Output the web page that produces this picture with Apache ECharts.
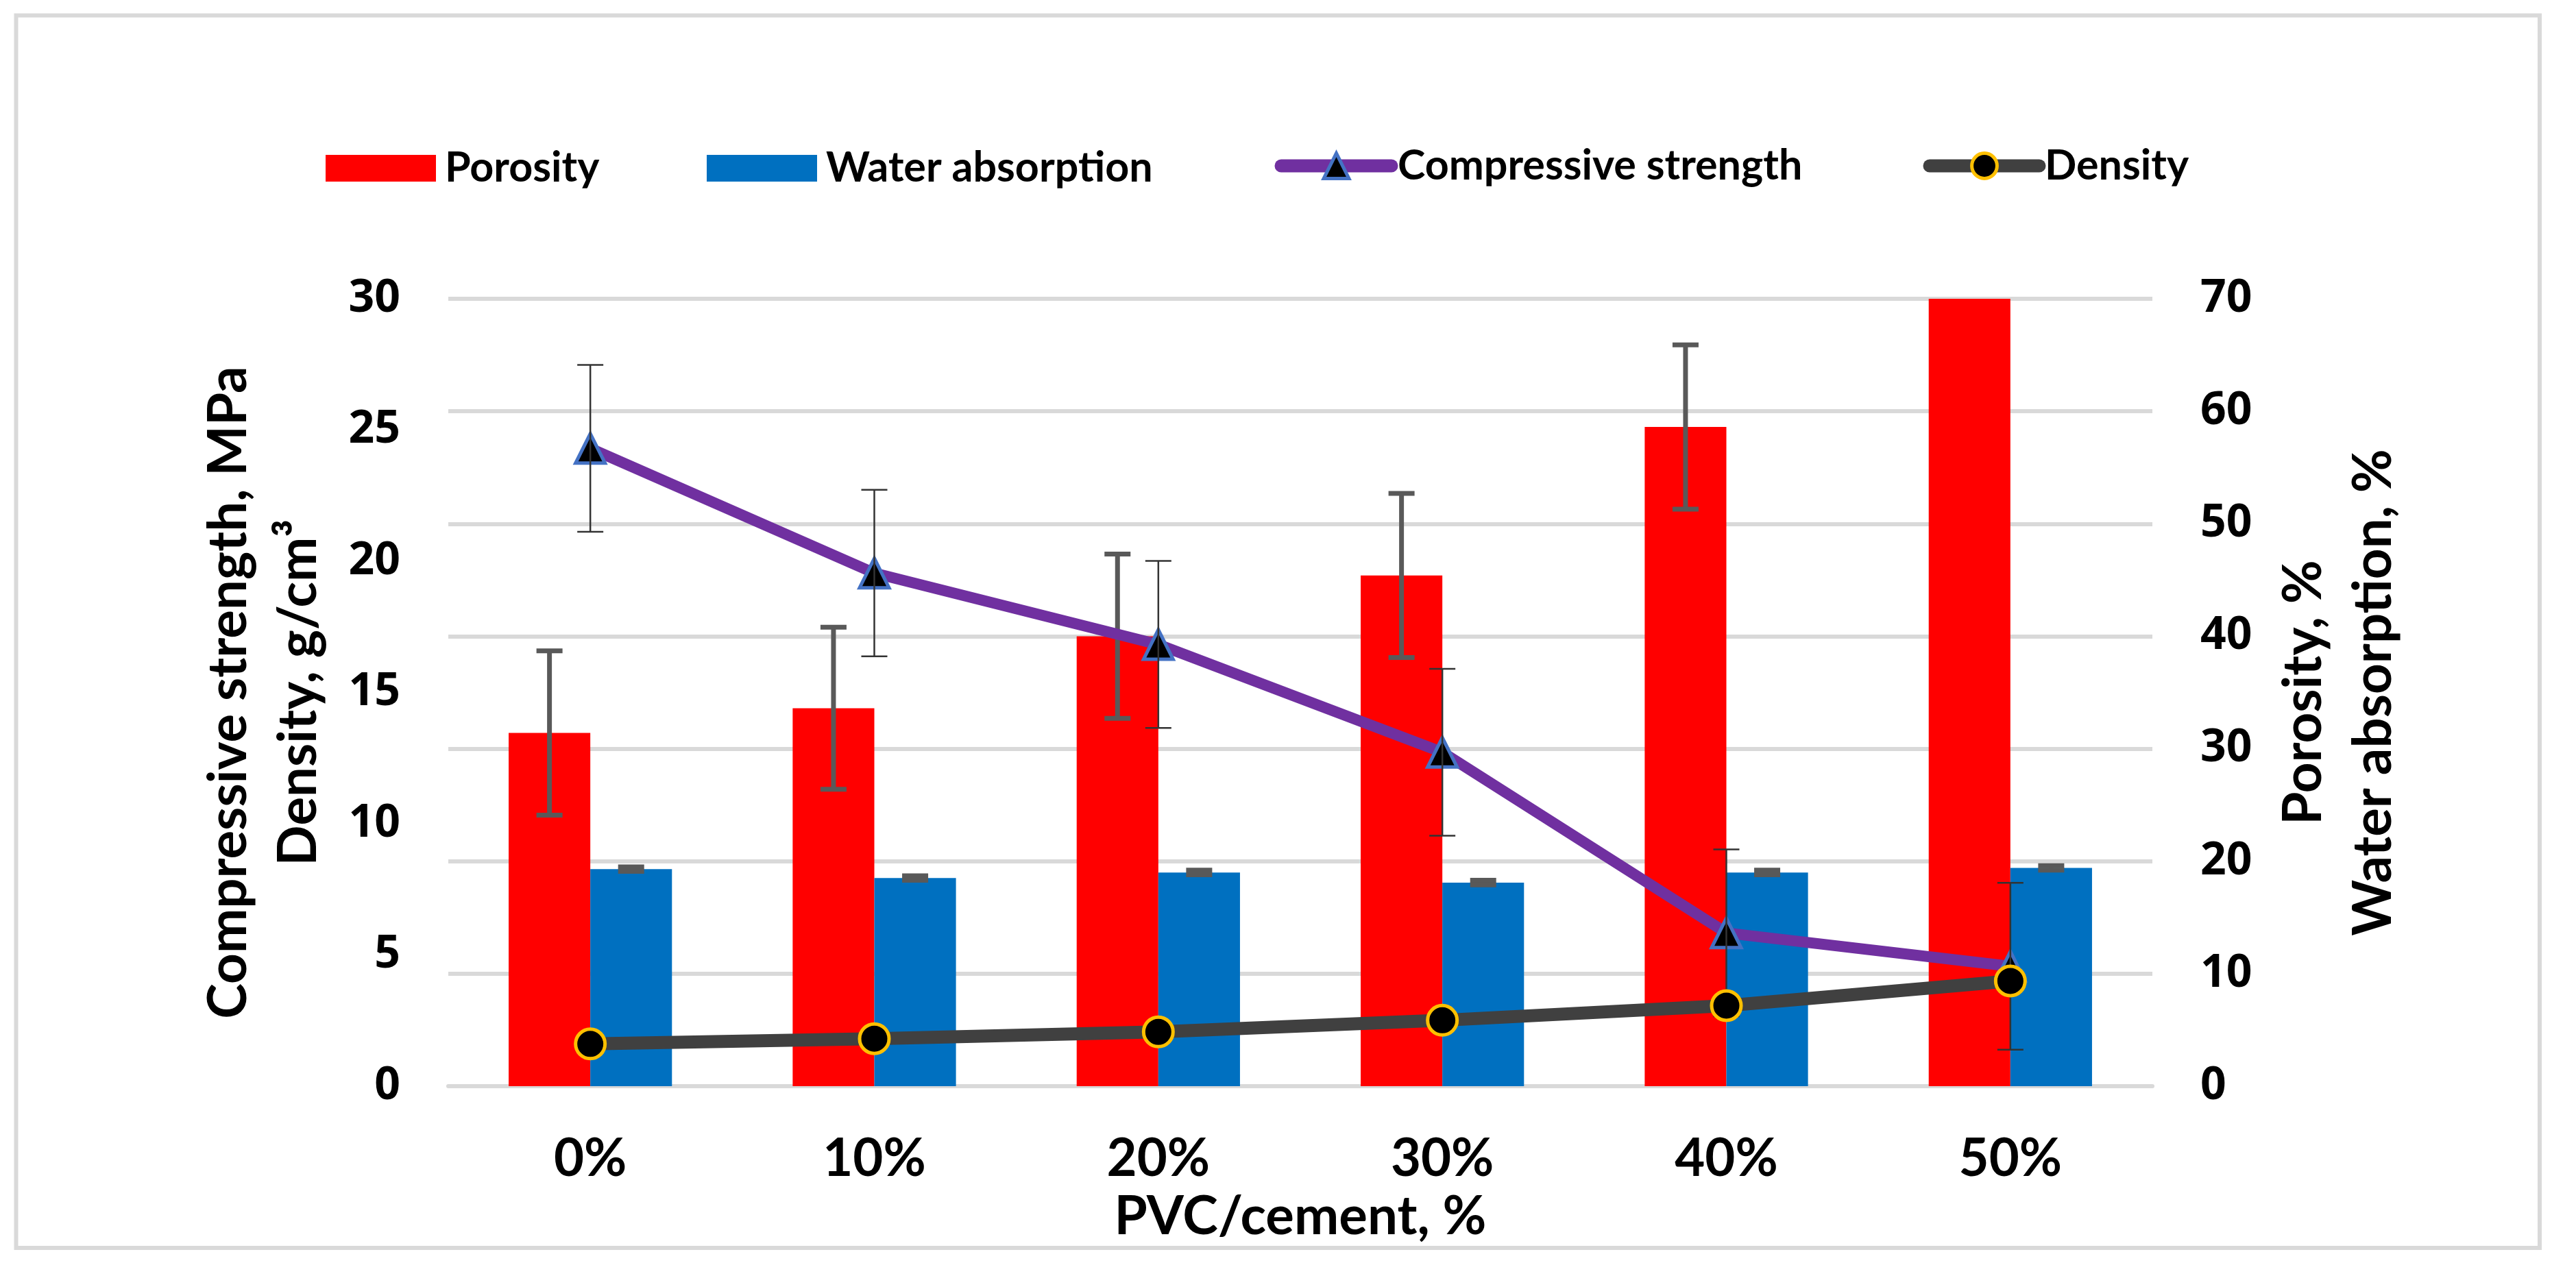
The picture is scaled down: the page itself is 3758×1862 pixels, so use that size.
<!DOCTYPE html>
<html>
<head>
<meta charset="utf-8">
<script src="https://cdn.jsdelivr.net/npm/echarts@6/dist/echarts.min.js"></script>
<style>
  html, body { margin: 0; padding: 0; background: #fff; }
  #chart { width: 3758px; height: 1862px; }
</style>
</head>
<body>
<div id="chart"></div>
<script>
// ---- data ----
const categories = ['0%', '10%', '20%', '30%', '40%', '50%'];
const porosity = [31.4, 33.6, 40.0, 45.4, 58.6, 78.0];          // right axis, %
const porosityErr = [7.3, 7.2, 7.3, 7.3, 7.3, 7.3];
const waterAbsorption = [19.3, 18.5, 19.0, 18.1, 19.0, 19.4];   // right axis, %
const waterAbsorptionErr = [0.2, 0.2, 0.2, 0.2, 0.2, 0.2];
const compressiveStrength = [24.3, 19.55, 16.83, 12.72, 5.84, 4.57]; // left axis, MPa
const compressiveStrengthErr = [3.18, 3.17, 3.18, 3.18, 3.18, 3.18];
const density = [1.61, 1.81, 2.07, 2.51, 3.07, 4.01];           // left axis, g/cm3
const leftAxisRange = [0, 30, 5];
const rightAxisRange = [0, 70, 10];

const FONT = 'Lato';
const chart = echarts.init(document.getElementById('chart'));

function errData(vals, errs) {
  return vals.map((v, i) => [i, v, errs[i]]);
}
function errRender(offsetFrac, capW, lw, color) {
  return function (params, api) {
    const i = api.value(0), v = api.value(1), e = api.value(2);
    const band = api.size([1, 0])[0];
    const cx = api.coord([i, v])[0] + band * offsetFrac;
    const yt = api.coord([i, v + e])[1];
    const yb = api.coord([i, v - e])[1];
    const st = { stroke: color, lineWidth: lw, fill: null };
    return {
      type: 'group',
      children: [
        { type: 'line', shape: { x1: cx, y1: yt, x2: cx, y2: yb }, style: st },
        { type: 'line', shape: { x1: cx - capW / 2, y1: yt, x2: cx + capW / 2, y2: yt }, style: st },
        { type: 'line', shape: { x1: cx - capW / 2, y1: yb, x2: cx + capW / 2, y2: yb }, style: st }
      ]
    };
  };
}
const barFrac = 0.2875;
function legendText(pad, lh) {
  return { fontFamily: FONT, fontWeight: 'bold', fontSize: 61, color: '#000', padding: [0, 0, 0, pad], lineHeight: lh };
}

const option = {
  backgroundColor: '#fff',
  animation: false,
  graphic: [{
    type: 'rect',
    shape: { x: 23.5, y: 22.5, width: 3681.5, height: 1798.5 },
    style: { fill: null, stroke: '#D9D9D9', lineWidth: 6 },
    silent: true
  }],
  legend: [
    { left: 475, top: 215, padding: 0, itemWidth: 161, itemHeight: 39, data: [{ name: 'Porosity', icon: 'rect' }],
      textStyle: legendText(8, 39) },
    { left: 1031, top: 215, padding: 0, itemWidth: 161, itemHeight: 39, data: [{ name: 'Water absorption', icon: 'rect' }],
      textStyle: legendText(8, 39) },
    { left: 1859.5, top: 211.5, padding: 0, itemWidth: 161, itemHeight: 46, data: ['Compressive strength'],
      lineStyle: { width: 19, cap: 'round' }, itemStyle: { borderWidth: 5 },
      textStyle: legendText(4, 46) },
    { left: 2805.5, top: 211.5, padding: 0, itemWidth: 160, itemHeight: 46, data: ['Density'],
      lineStyle: { width: 19, cap: 'round' }, itemStyle: { borderWidth: 5 },
      textStyle: legendText(3, 46) }
  ],
  grid: { left: 654, right: 618, top: 436, bottom: 277, containLabel: false },
  xAxis: {
    type: 'category',
    data: categories,
    axisLine: { show: true, lineStyle: { color: '#D9D9D9', width: 6 } },
    axisTick: { show: false },
    axisLabel: { fontFamily: FONT, fontWeight: 'bold', fontSize: 76, color: '#000', margin: 66, lineHeight: 80 },
    name: 'PVC/cement, %',
    nameLocation: 'middle',
    nameGap: 131,
    nameTextStyle: { fontFamily: FONT, fontWeight: 'bold', fontSize: 78, color: '#000', lineHeight: 80 }
  },
  yAxis: [
    {
      type: 'value', min: leftAxisRange[0], max: leftAxisRange[1], interval: leftAxisRange[2],
      position: 'left',
      axisLine: { show: false }, axisTick: { show: false },
      splitLine: { show: false },
      axisLabel: { fontFamily: 'Noto Sans', fontWeight: 'bold', fontSize: 66, color: '#000', margin: 70 },
      name: 'Compressive strength, MPa\nDensity, g/cm³',
      nameLocation: 'middle', nameRotate: 90, nameGap: 167,
      nameTextStyle: { fontFamily: FONT, fontWeight: 'bold', fontSize: 78, color: '#000', lineHeight: 102, align: 'center' }
    },
    {
      type: 'value', min: rightAxisRange[0], max: rightAxisRange[1], interval: rightAxisRange[2],
      position: 'right',
      axisLine: { show: false }, axisTick: { show: false },
      splitLine: { show: true, lineStyle: { color: '#D9D9D9', width: 6 } },
      axisLabel: { fontFamily: 'Noto Sans', fontWeight: 'bold', fontSize: 66, color: '#000', margin: 70 },
      name: 'Porosity, %\nWater absorption, %',
      nameLocation: 'middle', nameRotate: 90, nameGap: 170,
      nameTextStyle: { fontFamily: FONT, fontWeight: 'bold', fontSize: 78, color: '#000', lineHeight: 102, align: 'center' }
    }
  ],
  series: [
    {
      name: 'Porosity', type: 'bar', yAxisIndex: 1, data: porosity,
      barGap: '0%', barCategoryGap: '42.5%', clip: true, z: 2,
      itemStyle: { color: '#FF0000' }
    },
    {
      name: 'Water absorption', type: 'bar', yAxisIndex: 1, data: waterAbsorption,
      barGap: '0%', barCategoryGap: '42.5%', clip: true, z: 2,
      itemStyle: { color: '#0070C0' }
    },
    {
      name: 'porosityErr', type: 'custom', yAxisIndex: 1, clip: true, z: 3,
      data: errData(porosity, porosityErr), encode: { x: 0, y: 1 },
      renderItem: errRender(-barFrac / 2, 38, 7, '#595959')
    },
    {
      name: 'waterErr', type: 'custom', yAxisIndex: 1, clip: true, z: 3,
      data: errData(waterAbsorption, waterAbsorptionErr), encode: { x: 0, y: 1 },
      renderItem: errRender(barFrac / 2, 38, 7, '#595959')
    },
    {
      name: 'Compressive strength', type: 'line', yAxisIndex: 0, data: compressiveStrength, z: 4,
      symbol: 'triangle', symbolSize: 43,
      lineStyle: { color: '#7030A0', width: 16 },
      itemStyle: { color: '#000000', borderColor: '#4472C4', borderWidth: 5 }
    },
    {
      name: 'csErr', type: 'custom', yAxisIndex: 0, clip: true, z: 5,
      data: errData(compressiveStrength, compressiveStrengthErr), encode: { x: 0, y: 1 },
      renderItem: errRender(0, 38, 2.5, '#333333')
    },
    {
      name: 'Density', type: 'line', yAxisIndex: 0, data: density, z: 6,
      symbol: 'circle', symbolSize: 43,
      lineStyle: { color: '#404040', width: 19 },
      itemStyle: { color: '#000000', borderColor: '#FFC000', borderWidth: 5 }
    }
  ]
};
chart.setOption(option);
</script>
</body>
</html>
